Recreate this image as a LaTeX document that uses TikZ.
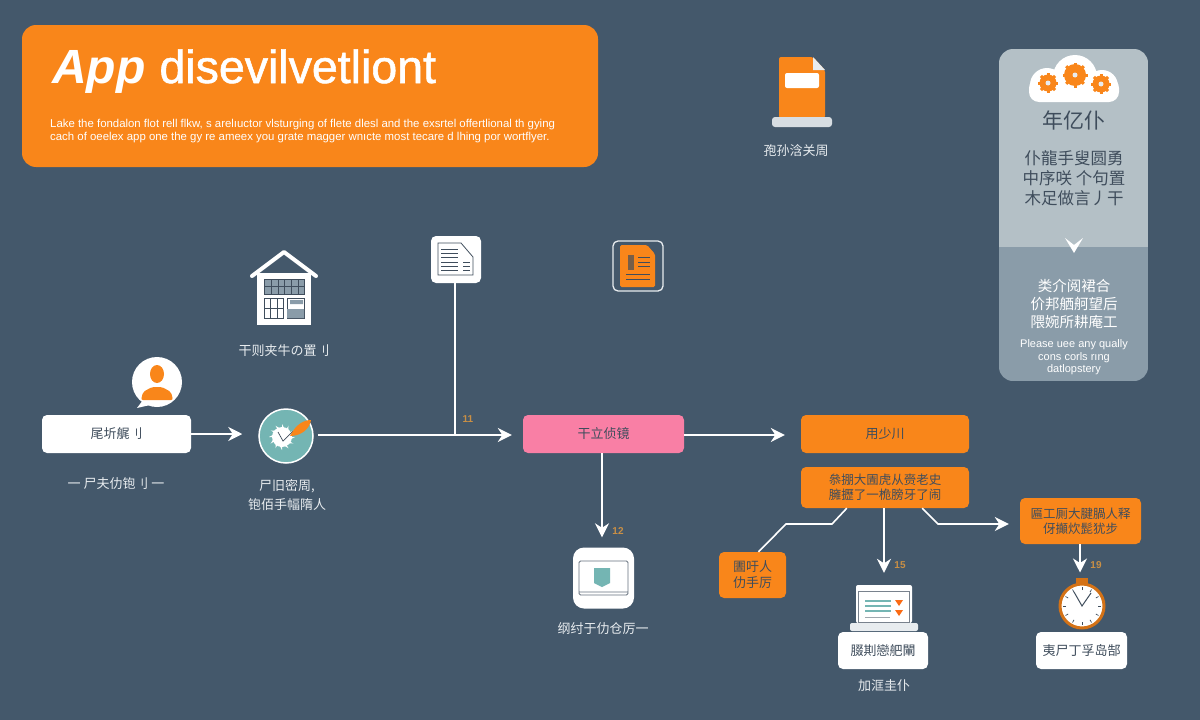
\documentclass[tikz,border=0pt]{standalone}
\usepackage{fontspec}
\usepackage{xcolor}
\usepackage{tikz}
\usetikzlibrary{arrows.meta}
\setmainfont{Liberation Sans}
\newfontfamily\cjk{Noto Sans CJK SC}
\newfontfamily\titlefont[FakeBold=1.2]{Liberation Sans}
\definecolor{slatebg}{HTML}{44586B}
\definecolor{appor}{HTML}{F9861A}
\definecolor{apppink}{HTML}{F97FA5}
\definecolor{appteal}{HTML}{74B5B3}
\definecolor{paneltop}{HTML}{B4C0C6}
\definecolor{panellow}{HTML}{8A9CA9}
\definecolor{inkdark}{HTML}{3F4D5C}
\definecolor{numcol}{HTML}{C98F45}
\definecolor{labelcol}{HTML}{E8ECEF}
\newcommand{\fs}[1]{\fontsize{#1}{#1}\selectfont}
\tikzset{
  box/.style={rounded corners=5pt,inner sep=0pt,align=center,text=inkdark,font=\cjk\fs{13}},
  whitebox/.style={box,fill=white},
  orangebox/.style={box,fill=appor},
  lbl/.style={text=labelcol,font=\cjk\fs{13},align=center,inner sep=0pt},
  num/.style={text=numcol,font=\fs{10}\bfseries,inner sep=0pt},
  flow/.style={draw=white,line width=1.6pt,-{Stealth[length=14pt,width=14pt,inset=4.5pt]}},
  flowline/.style={draw=white,line width=1.6pt},
}
\begin{document}
\begin{tikzpicture}[x=1pt,y=-1pt]
    \useasboundingbox (0,0) rectangle (1200,720);
    \fill[slatebg] (0,0) rectangle (1200,720);

    % banner
    \node (banner) [fill=appor,rounded corners=14pt,minimum width=576pt,minimum height=142pt] at (310,96) {};
    \node (title) [anchor=base west,text=white,inner sep=0pt] at (52,83)
      {{\fs{48}\bfseries\itshape App}\hspace{14pt}{\titlefont\fs{46.5}disevilvetliont}};
    \node (intro) [anchor=west,text=white,inner sep=0pt,align=left,font=\fontsize{11.4}{13}\selectfont] at (50,131.5)
      {Lake the fondalon flot rell flkw, s arelıuctor vlsturging of flete dlesl and the exsrtel offertlional th gying\\
       cach of oeelex app one the gy re ameex you grate magger wnıcte most tecare d lhing por wortflyer.};

    % top document icon
    \fill[appor,rounded corners=2pt] (779,57) -- (813,57) -- (825,70) -- (825,118) -- (779,118) -- cycle;
    \fill[labelcol] (813,57) -- (825,70) -- (813,70) -- cycle;
    \fill[white,rounded corners=2pt] (785,73) rectangle (819,88);
    \fill[labelcol!90!slatebg,rounded corners=3pt] (772,117) rectangle (832,127);
    \node (toplabel) [lbl] at (796,151) {孢孙浛关周};

    % side panel
    \begin{scope}
      \clip[rounded corners=14pt] (999,49) rectangle (1148,381);
      \fill[paneltop] (999,49) rectangle (1148,247);
      \fill[panellow] (999,247) rectangle (1148,381);
    \end{scope}
    \fill[white] (1075,77) circle (22pt) (1047,85) circle (17pt) (1102,86) circle (16pt);
    \fill[white,rounded corners=10pt] (1029,78) rectangle (1119,102);
    \foreach \gx/\gy/\gr in {1048/83/8.5,1075/75/11,1101/84/8.5} {
      \fill[appor] (\gx,\gy) circle (\gr pt);
      \foreach \a in {0,45,...,315}
        \draw[appor,line width=3pt] (\gx,\gy) -- +(\a:\gr+1.5);
      \fill[labelcol] (\gx,\gy) circle (2.5pt);
    }
    \node (paneltitle) [text=inkdark,font=\cjk\fs{21},inner sep=0pt] at (1074,120) {年亿仆};
    \node (panelone) [text=inkdark,font=\cjk\fontsize{16.5}{20}\selectfont,align=center,inner sep=0pt] at (1074,178)
      {仆龍手叟圆勇\\中序咲 个句置\\木足做言丿干};
    \fill[white] (1065,238) -- (1074,245) -- (1083,238) -- (1074,253) -- cycle;
    \node (paneltwo) [text=white,font=\cjk\fontsize{14.5}{18}\selectfont,align=center,inner sep=0pt] at (1074,304)
      {类介阅裙合\\价邦舾舸望后\\隈婉所耕庵工};
    \node (panelthree) [text=white,font=\fontsize{11}{12.5}\selectfont,align=center,inner sep=0pt] at (1074,357.5)
      {Please uee any qually\\cons corls rıng\\datlopstery};

    % house
    \fill[white] (257,273) rectangle (311,325);
    \draw[white,line width=4pt,line join=round,line cap=round] (252,276) -- (284,252) -- (316,276);
    \fill[slatebg] (284,258) -- (302,272) -- (266,272) -- cycle;
    \fill[panellow] (264,279) rectangle (304,294);
    \draw[inkdark,line width=.5pt] (264,279) rectangle (304,294) (264,286) -- (304,286)
      (271,279) -- (271,294) (278,279) -- (278,294) (284,279) -- (284,294) (291,279) -- (291,294) (298,279) -- (298,294);
    \draw[inkdark,line width=.7pt] (264,298) rectangle (283,318) (270,298) -- (270,318) (277,298) -- (277,318) (264,308) -- (283,308);
    \draw[inkdark,line width=.7pt] (287,298) rectangle (304,318);
    \fill[panellow] (287,309) rectangle (304,318) (290,300) rectangle (303,304);
    \node (houselabel) [lbl] at (284,351) {干则夹牛の置刂};

    % user
    \fill[white] (157,382) circle (25pt);
    \fill[white] (143,400) -- (137,408) -- (150,405) -- cycle;
    \fill[appor] (157,374) ellipse (7pt and 9pt);
    \fill[appor,rounded corners=2pt] (141,400) -- (143,392) -- (152,387) -- (162,387) -- (171,392) -- (173,400) -- cycle;
    \node (userbox) [whitebox,minimum width=149pt,minimum height=38pt] at (116.5,434) {尾圻艉刂};
    \node (userlabel) [lbl] at (116,484) {一 尸夫仂铇刂 一};

    % check
    \node (check) [circle,fill=appteal,draw=white,line width=1.5pt,minimum size=54pt,inner sep=0pt] at (286,436) {};
    \fill[white] (282,437) circle (10pt);
    \foreach \a in {0,30,...,330}
      \fill[white] (282,437) -- +(\a:13) -- +(\a+15:9) -- cycle;
    \draw[inkdark,line width=.7pt] (278,432) -- (283,441) -- (293,431);
    \fill[appor] (290,436) .. controls (296,424) and (304,420) .. (311,420) .. controls (310,428) and (302,436) .. (290,436);
    \node (checklabel) [lbl,font=\cjk\fontsize{13}{19}\selectfont] at (287,495) {尸旧密周,\\铇佰手幅隋人};

    % doc icon with line
    \node (docbox) [fill=white,rounded corners=5pt,minimum width=50pt,minimum height=47pt,inner sep=0pt] at (456,259.5) {};
    \draw[inkdark,line width=.8pt,fill=white] (438,243) -- (461,243) -- (473,257) -- (473,275) -- (438,275) -- cycle;
    \foreach \ly in {249,253,257,262,266,270}
      \draw[inkdark,line width=1pt] (441,\ly) -- (458,\ly);
    \foreach \ly in {262,266,270}
      \draw[inkdark,line width=1pt] (463,\ly) -- (470,\ly);

    % orange doc
    \node (orangedoc) [draw=labelcol,line width=1.3pt,rounded corners=5pt,minimum width=50pt,minimum height=50pt,inner sep=0pt] at (638,266) {};
    \fill[appor,rounded corners=1.5pt] (620,245) -- (647,245) -- (655,254) -- (655,287) -- (620,287) -- cycle;
    \fill[inkdark!70!appor] (628,255) rectangle (634,270);
    \foreach \ly in {257,262,266}
      \draw[inkdark,line width=.8pt] (638,\ly) -- (650,\ly);
    \foreach \ly in {274,279}
      \draw[inkdark,line width=.8pt] (626,\ly) -- (650,\ly);

    % flow boxes
    \node (pinkbox) [box,fill=apppink,minimum width=161pt,minimum height=38pt] at (603.5,434) {干立侦镜};
    \node (planbox) [orangebox,minimum width=168pt,minimum height=38pt] at (885,434) {用少川};
    \node (stepbox) [orangebox,minimum width=168pt,minimum height=41pt,font=\cjk\fontsize{12.5}{15}\selectfont] at (885,487.5) {叅掤大圊虎从赍老史\\臃攊了一桅膀牙了闹};
    \node (sidebox) [orangebox,minimum width=67pt,minimum height=46pt,font=\cjk\fontsize{13}{16}\selectfont] at (752.5,575) {圕吁人\\仂手厉};
    \node (rightbox) [orangebox,minimum width=121pt,minimum height=46pt,font=\cjk\fontsize{12.5}{15}\selectfont] at (1080.5,521) {匾工厠大腱腡人释\\伢攧炊髭犹步};

    % monitor
    \node (monitor) [fill=white,rounded corners=11pt,minimum width=61pt,minimum height=61pt,inner sep=0pt] at (603.5,578) {};
    \draw[inkdark!80,line width=.8pt,rounded corners=1.5pt] (579,561) rectangle (628,595) (579,592) -- (628,592);
    \fill[appteal] (594,568) -- (610,568) -- (610,583) -- (602,587) -- (594,583) -- cycle;
    \node (monitorlabel) [lbl] at (603,629) {纲纣于仂仓厉一};

    % laptop
    \node (laptop) [fill=white,rounded corners=2pt,minimum width=56pt,minimum height=38pt,inner sep=0pt] at (884,604) {};
    \draw[inkdark!70,line width=.7pt] (858,591) rectangle (909,622);
    \foreach \ly in {601,606,611}
      \draw[appteal,line width=1.5pt] (865,\ly) -- (891,\ly);
    \draw[inkdark!50,line width=1pt] (865,617) -- (890,617);
    \fill[appor!80!red] (895,600) -- (903,600) -- (899,606) -- cycle (895,610) -- (903,610) -- (899,616) -- cycle;
    \fill[labelcol,rounded corners=2pt] (850,623) rectangle (918,631);
    \node (laptopbox) [whitebox,minimum width=90pt,minimum height=37pt] at (883,650.5) {腏剘戀舥閳};
    \node (laptoplabel) [lbl] at (884,686) {加洭圭仆};

    % stopwatch
    \fill[appor!85!black] (1076,578) rectangle (1088,585);
    \node (watch) [circle,fill=white,draw=appor!85!black,line width=3pt,minimum size=44pt,inner sep=0pt] at (1082,606) {};
    \foreach \a in {0,30,...,330}
      \draw[inkdark,line width=.7pt] (1082,606) ++(\a:16) -- ++(\a:3);
    \draw[inkdark,line width=1pt] (1074,592) -- (1082,606) -- (1091,593);
    \node (watchbox) [whitebox,minimum width=91pt,minimum height=37pt] at (1081.5,650.5) {夷尸丁孚岛郜};

    % connectors
    \coordinate (junction) at (455,435);
    \coordinate (leftbend) at (832,524);
    \coordinate (leftturn) at (786,524);
    \coordinate (rightbend) at (938,524);
    \coordinate (watchfoot) at (1080,544);
    \draw[flow,shorten >=16pt] (userbox.east) -- (check.west |- userbox.east);
    \draw[flow,shorten <=4pt,shorten >=11pt] (check.east |- junction) -- (pinkbox.west |- junction);
    \draw[flowline] (docbox.south -| junction) -- (junction);
    \draw[flow,shorten >=16pt] (pinkbox.east |- junction) -- (planbox.west |- junction);
    \draw[flow,shorten >=10pt] ([xshift=-1.5pt]pinkbox.south) -- ([xshift=-1.5pt]monitor.north);
    \draw[flowline] ([xshift=46pt]stepbox.south west) -- (leftbend) -- (leftturn) -- ([xshift=6pt]sidebox.north);
    \draw[flow,shorten >=12pt] ([xshift=-1pt]stepbox.south) -- ([xshift=-1pt]stepbox.south |- laptop.north);
    \draw[flow,shorten >=11pt] ([xshift=-47pt]stepbox.south east) -- (rightbend) -- (rightbox.west |- rightbend);
    \draw[flow,shorten >=10pt] (watchfoot) -- (watchfoot |- watch.north);

    % step numbers
    \node (numa) [num] at (468,419) {11};
    \node (numb) [num] at (618,531) {12};
    \node (numc) [num] at (900,565) {15};
    \node (numd) [num] at (1096,565) {19};
\end{tikzpicture}
\end{document}
